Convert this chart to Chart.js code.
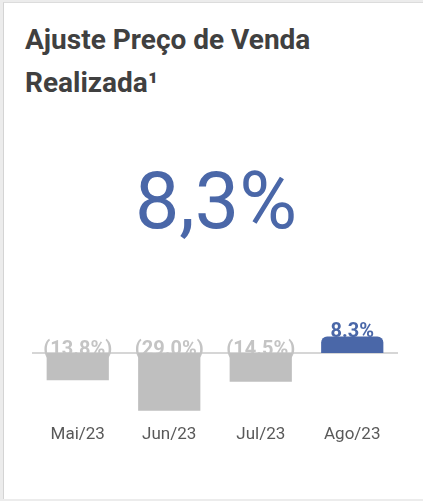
<!DOCTYPE html>
<html>
<head>
<meta charset="utf-8">
<script src="https://cdn.jsdelivr.net/npm/chart.js@4.4.0/dist/chart.umd.min.js"></script>
<style>
  html, body { margin: 0; padding: 0; width: 423px; height: 501px; overflow: hidden; background: #ececec; font-family: Roboto, sans-serif; }
  #card { position: absolute; left: 3px; top: 2px; width: 420px; height: 496px; background: #fff; border-left: 1px solid #d4d4d4; border-top: 1px solid #dcdcdc; }
  #title { position: absolute; left: 25px; top: 18px; margin: 0; font-size: 28px; line-height: 43px; font-weight: bold; color: #404040; }
  #big { position: absolute; left: 116px; top: 162px; width: 200px; text-align: center; font-size: 79px; line-height: 79px; color: #4a67a8; }
  #chartBox { position: absolute; left: 0; top: 290px; width: 423px; height: 173px; }
</style>
</head>
<body>
<div id="card"></div>
<h1 id="title">Ajuste Preço de Venda<br>Realizada¹</h1>
<div id="big">8,3%</div>
<div id="chartBox"><canvas id="chart"></canvas></div>
<script>
const months = ['Mai/23', 'Jun/23', 'Jul/23', 'Ago/23'];
const values = [-13.8, -29.0, -14.5, 8.3];
const valueLabels = ['(13.8%)', '(29.0%)', '(14.5%)', '8.3%'];

const grey = '#bfbfbf';
const blue = '#4a67a8';

// linha do zero + rótulos (desenhados antes das barras)
const labelPlugin = {
    id: 'labelPlugin',
    beforeDatasetsDraw(chart) {
        const ctx = chart.ctx;
        const area = chart.chartArea;
        const y0 = chart.scales.y.getPixelForValue(0);
        ctx.save();
        ctx.strokeStyle = '#d6d6d6';
        ctx.lineWidth = 2;
        ctx.beginPath();
        ctx.moveTo(area.left, y0);
        ctx.lineTo(area.right, y0);
        ctx.stroke();

        ctx.font = 'bold 20px Roboto';
        ctx.textAlign = 'center';
        ctx.textBaseline = 'alphabetic';
        chart.getDatasetMeta(0).data.forEach((bar, i) => {
            if (values[i] < 0) {
                ctx.fillStyle = '#c4c4c4';
                ctx.fillText(valueLabels[i], bar.x, y0 + 2);
            } else {
                ctx.fillStyle = blue;
                ctx.fillText(valueLabels[i], bar.x, bar.y + 1);
            }
        });
        ctx.restore();
    }
};

new Chart(document.getElementById('chart'), {
    type: 'bar',
    data: {
        labels: months,
        datasets: [{
            data: values,
            backgroundColor: values.map(v => v < 0 ? grey : blue),
            borderRadius: values.map(v => v < 0 ? 0 : 6),
            borderSkipped: 'start',
            barPercentage: 0.85,
            categoryPercentage: 0.8
        }]
    },
    options: {
        responsive: true,
        maintainAspectRatio: false,
        animation: false,
        layout: { padding: { left: 32, right: 25, top: 43, bottom: 10 } },
        plugins: {
            legend: { display: false },
            tooltip: { enabled: false }
        },
        scales: {
            x: {
                grid: { display: false, drawTicks: false },
                border: { display: false },
                ticks: { color: '#595959', font: { family: 'Roboto', size: 17 }, padding: 8 }
            },
            y: {
                display: false,
                min: -32,
                max: 10
            }
        }
    },
    plugins: [labelPlugin]
});
</script>
</body>
</html>
